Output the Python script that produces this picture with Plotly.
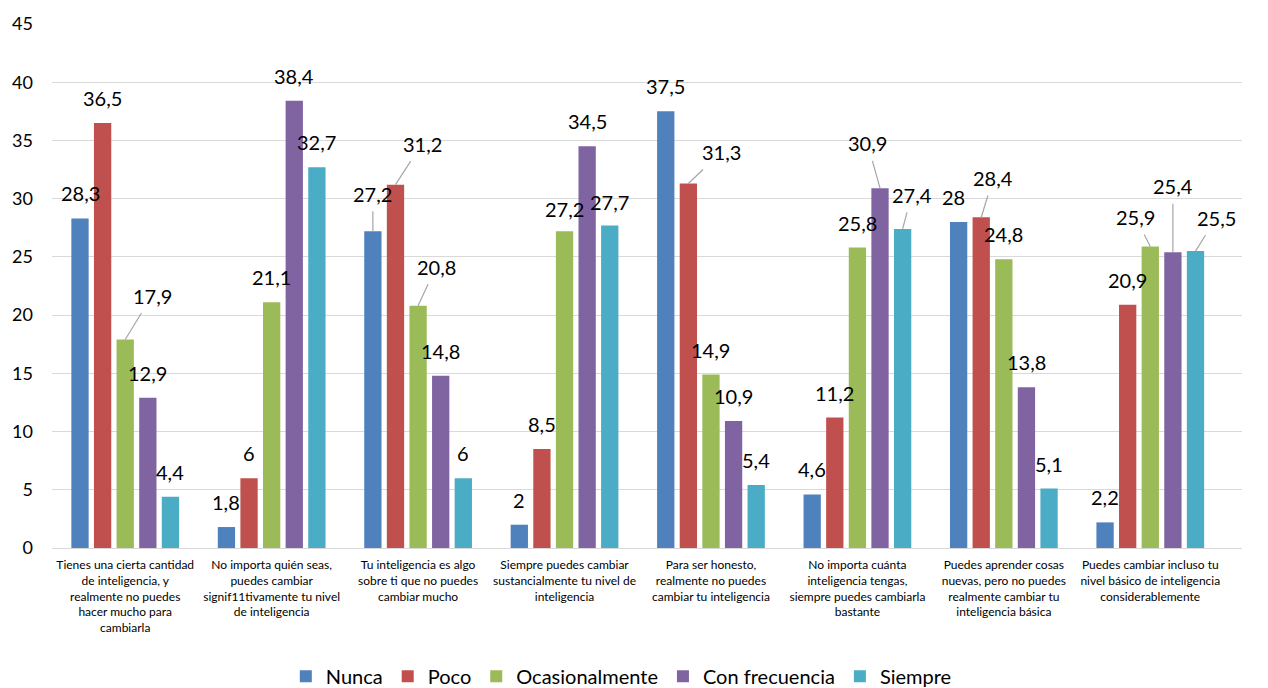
import plotly.graph_objects as go

# Survey statements (x categories)
categories = [
    "Tienes una cierta cantidad<br>de inteligencia, y<br>realmente no puedes<br>hacer mucho para<br>cambiarla",
    "No importa quién seas,<br>puedes cambiar<br>signif11tivamente tu nivel<br>de inteligencia",
    "Tu inteligencia es algo<br>sobre ti que no puedes<br>cambiar mucho",
    "Siempre puedes cambiar<br>sustancialmente tu nivel de<br>inteligencia",
    "Para ser honesto,<br>realmente no puedes<br>cambiar tu inteligencia",
    "No importa cuánta<br>inteligencia tengas,<br>siempre puedes cambiarla<br>bastante",
    "Puedes aprender cosas<br>nuevas, pero no puedes<br>realmente cambiar tu<br>inteligencia básica",
    "Puedes cambiar incluso tu<br>nivel básico de inteligencia<br>considerablemente",
]

# Percentage of answers per frequency option
nunca = [28.3, 1.8, 27.2, 2, 37.5, 4.6, 28, 2.2]
poco = [36.5, 6, 31.2, 8.5, 31.3, 11.2, 28.4, 20.9]
ocasionalmente = [17.9, 21.1, 20.8, 27.2, 14.9, 25.8, 24.8, 25.9]
con_frecuencia = [12.9, 38.4, 14.8, 34.5, 10.9, 30.9, 13.8, 25.4]
siempre = [4.4, 32.7, 6, 27.7, 5.4, 27.4, 5.1, 25.5]

series_names = ["Nunca", "Poco", "Ocasionalmente", "Con frecuencia", "Siempre"]
series_values = [nunca, poco, ocasionalmente, con_frecuencia, siempre]
series_colors = ["#4F81BD", "#C0504D", "#9BBB59", "#8064A2", "#4BACC6"]

y_ticks = [0, 5, 10, 15, 20, 25, 30, 35, 40, 45]

FONT = "Lato"
BARGAP = 0.228
BARGROUPGAP = 0.235

# Label placement (pixel offset of label centre from bar top); default is straight above.
DEFAULT_DY = -25
label_offsets = {
    (2, 0): (27, -44, True),
    (0, 2): (0, -37.5, True),
    (1, 2): (26.6, -41, True),
    (2, 2): (18, -39, True),
    (2, 3): (0, -22.5, False),
    (4, 3): (0, -23, False),
    (1, 4): (33, -31.5, True),
    (3, 5): (-12.5, -44.8, True),
    (4, 5): (9, -34, True),
    (0, 6): (-5.5, -25, False),
    (1, 6): (12, -39.3, True),
    (2, 7): (-15, -29.5, True),
    (3, 7): (0, -66, True),
    (4, 7): (21, -33.3, True),
}


def fmt(v):
    return f"{v:g}".replace(".", ",")


fig = go.Figure()
for name, vals, col in zip(series_names, series_values, series_colors):
    fig.add_trace(go.Bar(
        name=name, x=categories, y=vals,
        marker=dict(color=col, line=dict(width=0)),
    ))

n_series = len(series_names)
slot = (1 - BARGAP) / n_series
annotations = []
for j, vals in enumerate(series_values):
    for i, v in enumerate(vals):
        xpos = i + (j - (n_series - 1) / 2) * slot
        dx, dy, leader = label_offsets.get((j, i), (0, DEFAULT_DY, False))
        common = dict(
            x=xpos, y=v, xref="x", yref="y", text=fmt(v),
            font=dict(family=FONT, size=20, color="#000000"),
        )
        if leader:
            annotations.append(dict(
                **common, showarrow=True, arrowhead=0, arrowwidth=1.2,
                arrowcolor="#A6A6A6", ax=dx, ay=dy, standoff=0, borderpad=5,
            ))
        else:
            annotations.append(dict(
                **common, showarrow=False, xshift=dx, yshift=-dy,
                xanchor="center", yanchor="middle",
            ))

fig.update_layout(
    width=1268, height=688,
    margin=dict(l=50, r=26, t=22, b=140),
    paper_bgcolor="white", plot_bgcolor="white",
    barmode="group", bargap=BARGAP, bargroupgap=BARGROUPGAP,
    font=dict(family=FONT, color="#000000"),
    annotations=annotations,
    showlegend=True,
    legend=dict(
        orientation="h", xref="container", yref="container",
        x=0.49, xanchor="center", y=0.017, yanchor="middle",
        font=dict(family=FONT, size=20, color="#000000"),
        traceorder="normal",
    ),
    xaxis=dict(
        type="category", showgrid=False, showline=True, linecolor="#D9D9D9",
        linewidth=1, ticks="", tickfont=dict(family=FONT, size=12, color="#000000"),
        ticklabelstandoff=6,
    ),
    yaxis=dict(
        range=[0, 45], tickvals=y_ticks, ticktext=[str(t) for t in y_ticks],
        showgrid=True, gridcolor="#D9D9D9", gridwidth=1, zeroline=False,
        showline=False, ticks="", tickfont=dict(family=FONT, size=18, color="#000000"),
        ticklabelstandoff=18,
    ),
)

fig.write_html("out.html")
